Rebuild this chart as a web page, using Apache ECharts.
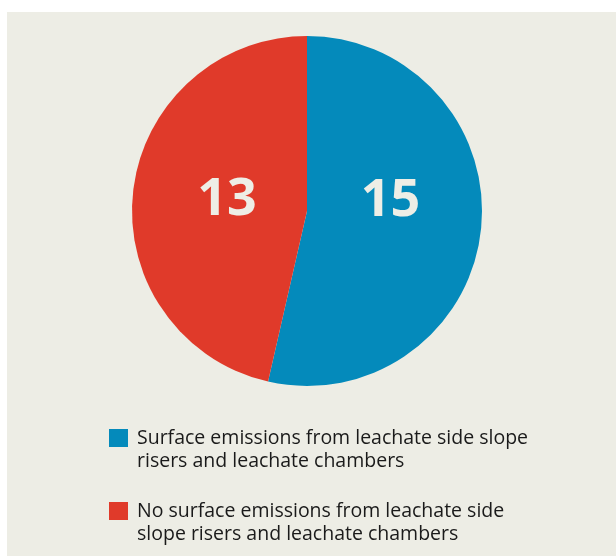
<!DOCTYPE html>
<html>
<head>
<meta charset="utf-8">
<script src="https://cdn.jsdelivr.net/npm/echarts@6/dist/echarts.min.js"></script>
<style>
  html, body { margin: 0; padding: 0; background: #ffffff; }
  #chart { position: absolute; left: 7px; top: 12px; width: 609px; height: 544px; }
</style>
</head>
<body>
<div id="chart"></div>
<script>
const categories = [
  'Surface emissions from leachate side slope\nrisers and leachate chambers',
  'No surface emissions from leachate side\nslope risers and leachate chambers'
];
const values = [15, 13];
const colors = ['#048abb', '#e03a2a'];

const chart = echarts.init(document.getElementById('chart'), null, { renderer: 'canvas' });

const legendCommon = {
  orient: 'vertical',
  left: 102,
  padding: 0,
  itemWidth: 19,
  itemHeight: 18,
  itemGap: 10,
  icon: 'rect',
  selectedMode: false,
  formatter: function (name) { return ' \n' + name; },
  textStyle: {
    fontFamily: 'Open Sans',
    fontSize: 19.5,
    color: '#1a1a1a',
    lineHeight: 23,
    padding: [0, 0, 0, 4]
  }
};

chart.setOption({
  backgroundColor: '#ededE5',
  animation: false,
  color: colors,
  legend: [
    Object.assign({}, legendCommon, { top: 391.5, data: [categories[0]] }),
    Object.assign({}, legendCommon, { top: 464.5, data: [categories[1]] })
  ],
  series: [{
    type: 'pie',
    center: [300, 199],
    radius: [0, 175],
    startAngle: 90,
    clockwise: true,
    data: categories.map((c, i) => ({ name: c, value: values[i] })),
    label: {
      show: true,
      position: 'inside',
      formatter: '{c}',
      fontFamily: 'Open Sans',
      fontWeight: 'bold',
      fontSize: 52,
      color: '#eeeee6'
    },
    labelLine: { show: false },
    labelLayout: function (p) {
      return p.dataIndex === 0 ? { dx: -6.5, dy: -19.5 } : { dx: 10, dy: -0.5 };
    },
    emphasis: { disabled: true }
  }]
});
</script>
</body>
</html>
